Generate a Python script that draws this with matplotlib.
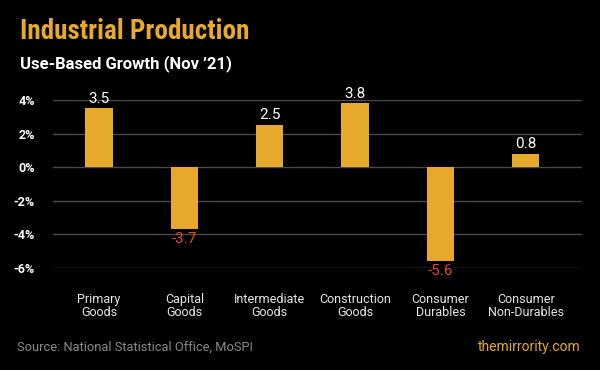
import matplotlib
matplotlib.use('Agg')
import matplotlib.pyplot as plt
from matplotlib import font_manager
import numpy as np

categories = ['Primary\nGoods', 'Capital\nGoods', 'Intermediate\nGoods',
              'Construction\nGoods', 'Consumer\nDurables', 'Consumer\nNon-Durables']
growth = [3.5, -3.7, 2.5, 3.8, -5.6, 0.8]
yticks = [4, 2, 0, -2, -4, -6]

BG = '#000000'
GOLD = '#E6A92B'
RED = '#E0472B'
GRID = '#4a4a4a'

plt.rcParams['font.family'] = ['Roboto', 'DejaVu Sans']

# pick a narrow face for the headline if one is installed
names = {f.name for f in font_manager.fontManager.ttflist}
narrow = [n for n in ['Roboto Condensed', 'Liberation Sans Narrow', 'DejaVu Sans Condensed',
                      'Open Sans Condensed', 'Noto Sans Display'] if n in names]
title_family = narrow + ['Roboto', 'DejaVu Sans']

fig = plt.figure(figsize=(6, 3.7), dpi=100, facecolor=BG)
ax = fig.add_axes([53/600, 102/370, 529/600, 168/370], facecolor=BG)

x = np.arange(len(categories))
bars = ax.bar(x, growth, width=0.32, color=GOLD, zorder=3)

ax.set_xlim(-0.54, 5.66)
ax.set_ylim(-6, 4)
ax.set_yticks(yticks)
ax.set_yticklabels([f'{t}%' for t in yticks], color='white', fontsize=9, fontweight='bold')
ax.set_xticks(x)
ax.set_xticklabels(categories, color='#e6e6e6', fontsize=9, linespacing=1.02)
ax.tick_params(axis='both', length=0)
ax.tick_params(axis='y', pad=13)
ax.tick_params(axis='x', pad=18)
for s in ax.spines.values():
    s.set_visible(False)
ax.grid(axis='y', color=GRID, linewidth=1, zorder=0)

for b, v in zip(bars, growth):
    cx = b.get_x() + b.get_width() / 2
    if v >= 0:
        ax.annotate(f'{v}', xy=(cx, v), xytext=(0, 2), textcoords='offset points',
                    ha='center', va='bottom', color='white', fontsize=11, annotation_clip=False)
    else:
        ax.annotate(f'{v}', xy=(cx, v), xytext=(0, -2), textcoords='offset points',
                    ha='center', va='top', color=RED, fontsize=11, annotation_clip=False)

fig.text(20/600, 1 - 39/370, 'Industrial Production', color=GOLD, fontsize=19.5,
         fontweight='bold', fontstretch='condensed', family=title_family, va='baseline')
fig.text(20/600, 1 - 68/370, 'Use-Based Growth (Nov \u201921)', color='white', fontsize=12,
         fontweight='bold', va='baseline')
fig.text(17/600, 1 - 351/370, 'Source: National Statistical Office, MoSPI', color='#8a8a8a',
         fontsize=9.3, va='baseline')
fig.text(581/600, 1 - 351/370, 'themirrority.com', color=GOLD, fontsize=10, ha='right',
         va='baseline')

fig.savefig('out.png', dpi=100, facecolor=BG)
